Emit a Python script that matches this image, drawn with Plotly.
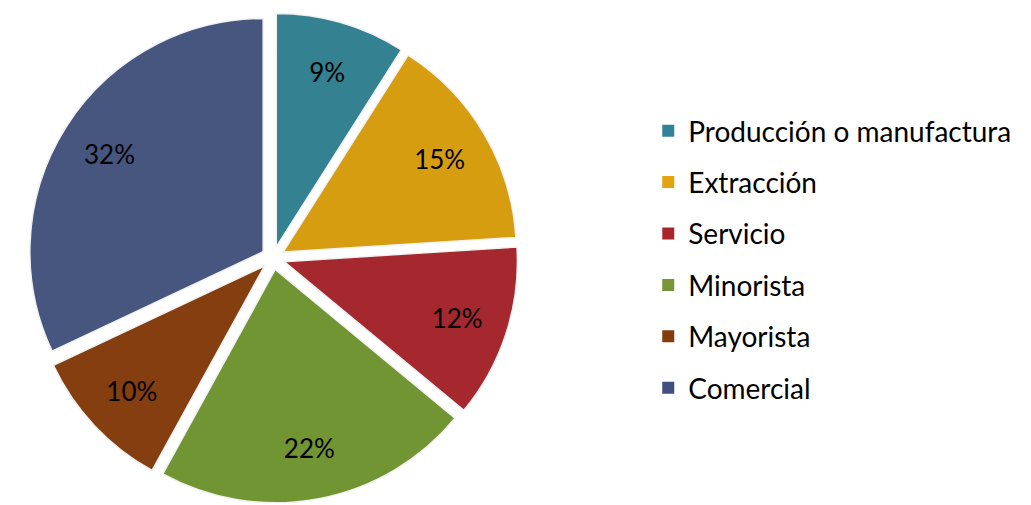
import plotly.graph_objects as go

labels = ["Producción o manufactura", "Extracción", "Servicio", "Minorista", "Mayorista", "Comercial"]
shares = [9, 15, 12, 22, 10, 32]
slice_colors = ["#338191", "#D69D10", "#A4282E", "#719533", "#843E0F", "#46567F"]
legend_colors = ["#31839A", "#E2A30E", "#A8262B", "#77963A", "#843C0C", "#3F4F7F"]

pie_domain = {"x": [0.0194, 0.4947], "y": [0.0198, 0.990]}

fig = go.Figure()

fig.add_trace(go.Pie(
    labels=labels,
    values=shares,
    sort=False,
    direction="clockwise",
    rotation=0,
    pull=0.05,
    textinfo="none",
    marker={"colors": slice_colors, "line": {"color": "#F2F2F2", "width": 1.5}},
    domain=pie_domain,
    showlegend=False,
    hoverinfo="skip",
))

# transparent ring on top, so the percentages sit further out like the original
fig.add_trace(go.Pie(
    labels=labels,
    values=shares,
    sort=False,
    direction="clockwise",
    rotation=0,
    pull=0.05,
    hole=0.56,
    textinfo="percent",
    textposition="inside",
    insidetextorientation="horizontal",
    textfont={"size": 26, "color": "black", "family": "Lato"},
    marker={"colors": ["rgba(0,0,0,0)"] * len(labels), "line": {"width": 0}},
    domain=pie_domain,
    showlegend=False,
))

# legend entries as empty scatter traces so the row spacing can be set
for name, col in zip(labels, legend_colors):
    fig.add_trace(go.Scatter(
        x=[None], y=[None], mode="markers", name=name,
        legendgroup=name,
        marker={"symbol": "square", "size": 13, "color": col},
    ))

fig.update_layout(
    width=1031,
    height=505,
    paper_bgcolor="white",
    plot_bgcolor="white",
    margin={"l": 0, "r": 0, "t": 0, "b": 0},
    font={"family": "Lato", "color": "black"},
    xaxis={"visible": False, "domain": [0.6, 0.61]},
    yaxis={"visible": False},
    legend={
        "x": 0.621, "xanchor": "left",
        "y": 0.502, "yanchor": "middle",
        "font": {"size": 28, "color": "black"},
        "tracegroupgap": 12,
        "itemsizing": "constant",
        "bgcolor": "rgba(0,0,0,0)",
    },
)

fig.write_html("out.html")
